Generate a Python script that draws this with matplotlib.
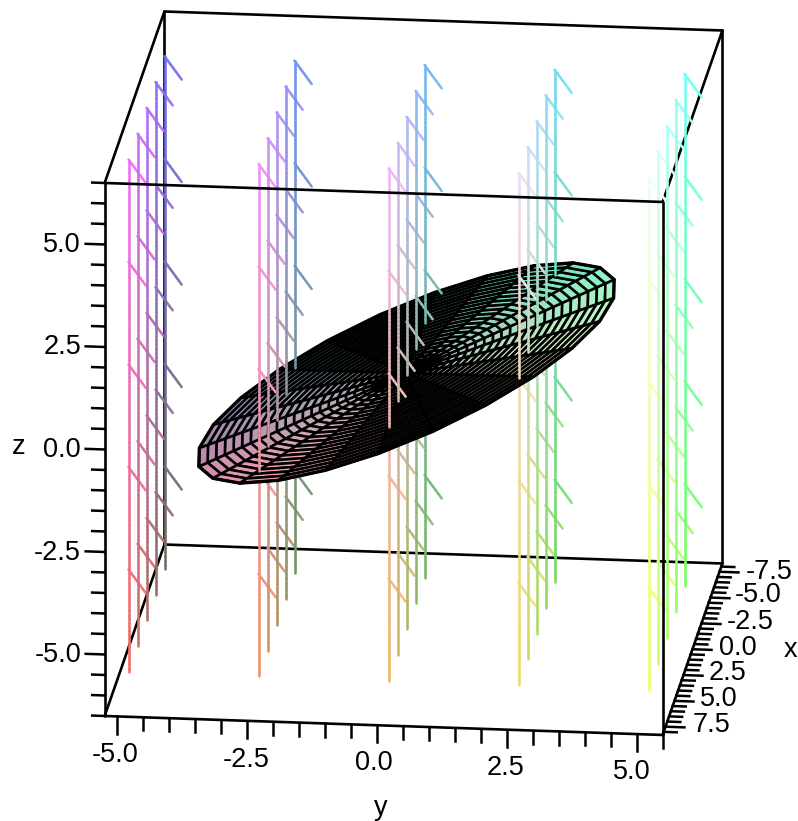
import numpy as np
import matplotlib
matplotlib.use('Agg')
import matplotlib.pyplot as plt
from matplotlib.collections import LineCollection, PolyCollection

plt.rcParams['font.family'] = ['Liberation Sans', 'DejaVu Sans']

# stems of the field, x and y positions
stem_x = [5.0, 2.5, 0.0, -2.5, -5.0]
stem_y = [-5.0, -2.5, 0.0, 2.5, 5.0]
stem_z = [-6.25, 6.25]
flag_z = [-3.75, -1.25, 1.25, 3.75, 6.25]
flag_vec = [1.0, 0.4, -0.3]

# box limits
x_lim = [-8.3, 8.3]
y_lim = [-5.23, 5.5]
z_lim = [-6.5, 6.5]

# disc outline, lies in the plane z = y / 2
rim_x = [2.07, 3.94, 5.55, 6.78, 7.54, 7.79, 7.51, 6.72, 5.47, 3.85, 1.97, -0.05,
         -2.07, -3.94, -5.55, -6.78, -7.54, -7.79, -7.51, -6.72, -5.47, -3.85, -1.97, 0.05]
rim_y = [-3.85, -3.45, -2.82, -1.99, -1.03, 0.00, 1.03, 1.99, 2.82, 3.45, 3.85, 3.98,
         3.85, 3.45, 2.82, 1.99, 1.03, 0.00, -1.03, -1.99, -2.82, -3.45, -3.85, -3.98]

# rings of the disc as a fraction of the outline
ring_frac = [0, .042, .083, .125, .167, .208, .25, .292, .333, .375, .417, .458, .5,
             .542, .583, .625, .667, .708, .75, .792, .833, .875, .917, .958, 1.0]

# tick labels
x_ticks = [-7.5, -5.0, -2.5, 0.0, 2.5, 5.0, 7.5]
y_ticks = [-5.0, -2.5, 0.0, 2.5, 5.0]
z_ticks = [-5.0, -2.5, 0.0, 2.5, 5.0]


def project(x, y, z):
    # the view is orthographic, so it is one affine map to pixels
    x, y, z = np.asarray(x, float), np.asarray(y, float), np.asarray(z, float)
    return 406.5 + 52 * y - 3.6 * x, 373 + 1.77 * y + 10.33 * x - 41 * z


def colour(x, y, z):
    r = np.clip(0.69 + 0.047 * np.asarray(x), 0, 1)
    g = np.clip(0.72 + 0.056 * np.asarray(y), 0, 1)
    b = np.clip(0.67 + 0.048 * np.asarray(z), 0, 1)
    return np.stack([r, g, b], axis=-1)


def disc_colour(x, y, z):
    # the disc reads paler than the stems on its pink side
    c = colour(x, y, z)
    c[1] = min(c[1] + 0.035, 1)
    c[2] = 0.73 + 0.025 * z
    return c


fig = plt.figure(figsize=(7.98, 8.21), dpi=100)
ax = fig.add_axes([0, 0, 1, 1])
ax.set_xlim(0, 798)
ax.set_ylim(821, 0)
ax.axis('off')


def box_edge(a, b, zorder):
    px, py = project(*zip(a, b))
    ax.plot(px, py, color='black', lw=1.9, zorder=zorder, solid_capstyle='round')


x0, x1 = x_lim
y0, y1 = y_lim
z0, z1 = z_lim
# back of the box goes under everything, front over it
for a, b in [((x0, y0, z0), (x0, y1, z0)), ((x0, y0, z1), (x0, y1, z1)),
             ((x0, y0, z0), (x0, y0, z1)), ((x0, y1, z0), (x0, y1, z1)),
             ((x0, y0, z0), (x1, y0, z0)), ((x0, y0, z1), (x1, y0, z1)),
             ((x0, y1, z0), (x1, y1, z0)), ((x0, y1, z1), (x1, y1, z1))]:
    box_edge(a, b, 1)
for a, b in [((x1, y0, z0), (x1, y1, z0)), ((x1, y0, z1), (x1, y1, z1)),
             ((x1, y0, z0), (x1, y0, z1)), ((x1, y1, z0), (x1, y1, z1))]:
    box_edge(a, b, 6)

# stems and flags, cut where they go through the disc plane
segs_under, cols_under, segs_over, cols_over = [], [], [], []


def add_path(xs, ys, zs):
    px, py = project(xs, ys, zs)
    for i in range(len(px) - 1):
        seg = [(px[i], py[i]), (px[i + 1], py[i + 1])]
        mid = ((xs[i] + xs[i + 1]) / 2, (ys[i] + ys[i + 1]) / 2, (zs[i] + zs[i + 1]) / 2)
        c = colour(*mid)
        if mid[2] > mid[1] / 2:
            segs_over.append(seg)
            cols_over.append(c)
        else:
            segs_under.append(seg)
            cols_under.append(c)


for sy in stem_y:
    for sx in stem_x:
        n = 125
        zs = np.linspace(stem_z[0], stem_z[1], n + 1)
        add_path(np.full(n + 1, sx), np.full(n + 1, sy), zs)
        for fz in flag_z:
            t = np.linspace(0, 1, 7)
            add_path(sx + t * flag_vec[0], sy + t * flag_vec[1], fz + t * flag_vec[2])

ax.add_collection(LineCollection(segs_under, colors=cols_under, linewidths=1.8,
                                 capstyle='round', zorder=2))
ax.add_collection(LineCollection(segs_over, colors=cols_over, linewidths=1.8,
                                 capstyle='round', zorder=4))

# the disc, one quad per ring and sector
rim_x_a = np.array(rim_x)
rim_y_a = np.array(rim_y)
polys, face = [], []
n_rim = len(rim_x)
for i in range(len(ring_frac) - 1):
    f0, f1 = ring_frac[i], ring_frac[i + 1]
    for j in range(n_rim):
        k = (j + 1) % n_rim
        qx = np.array([f0 * rim_x_a[j], f1 * rim_x_a[j], f1 * rim_x_a[k], f0 * rim_x_a[k]])
        qy = np.array([f0 * rim_y_a[j], f1 * rim_y_a[j], f1 * rim_y_a[k], f0 * rim_y_a[k]])
        qz = qy / 2
        px, py = project(qx, qy, qz)
        polys.append(np.column_stack([px, py]))
        face.append(disc_colour(qx.mean(), qy.mean(), qz.mean()))
ax.add_collection(PolyCollection(polys, facecolors=face, edgecolors='black',
                                 linewidths=1.85, zorder=3))
# heavier outline
px, py = project(rim_x_a, rim_y_a, rim_y_a / 2)
ax.fill(px, py, fill=False, edgecolor='black', lw=2.4, zorder=3)

# ticks
tick_minor, tick_major = 0.25, 0.365
for i in range(-16, 17):
    v = i * 0.5
    ln = tick_major if v in x_ticks else tick_minor
    px, py = project([v, v], [y1, y1 + ln], [z0, z0])
    ax.plot(px, py, color='black', lw=1.8, zorder=6)
for i in range(-10, 12):
    v = i * 0.5
    ln = 0.42 if v in y_ticks else 0.32
    px, py = project([x1, x1], [v, v], [z0, z0 - ln])
    ax.plot(px, py, color='black', lw=1.8, zorder=6)
for i in range(-13, 14):
    v = i * 0.5
    ln = tick_major if v in z_ticks else 0.24
    px, py = project([x1, x1], [y0, y0 - ln], [v, v])
    ax.plot(px, py, color='black', lw=1.8, zorder=6)

fs = 19.5
for v, lx, ly in zip(x_ticks, [769, 758, 750, 738, 728, 719, 712], [572, 595, 622, 648, 673, 699, 725]):
    ax.text(lx, ly, f'{v:.1f}', ha='center', va='center', fontsize=fs)
for v, lx, ly in zip(y_ticks, [115, 246, 374, 505, 632], [755, 760, 763, 768, 772]):
    ax.text(lx, ly, f'{v:.1f}', ha='center', va='center', fontsize=fs)
for v, ly in zip(z_ticks, [655, 553, 450, 347, 245]):
    ax.text(81, ly, f'{v:.1f}', ha='right', va='center', fontsize=fs)
ax.text(19, 447, 'z', ha='center', va='center', fontsize=fs)
ax.text(381, 808, 'y', ha='center', va='center', fontsize=fs)
ax.text(790, 650, 'x', ha='center', va='center', fontsize=fs)

fig.savefig('out.png', dpi=100)
